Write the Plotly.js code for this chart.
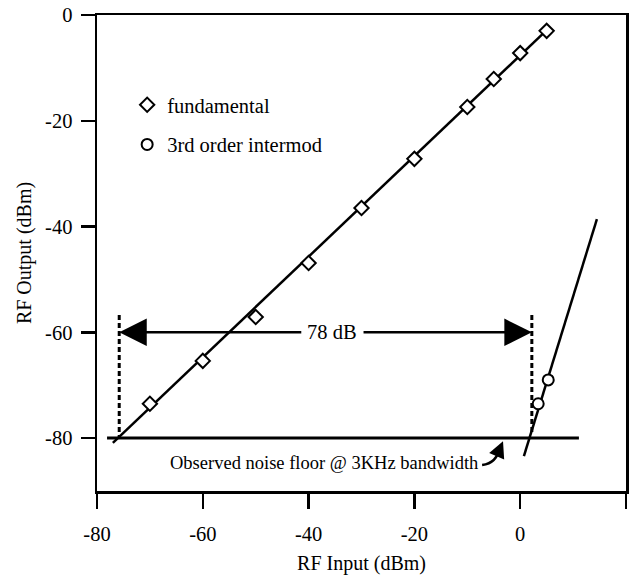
<!DOCTYPE html>
<html>
<head>
<meta charset="utf-8">
<script src="https://cdn.plot.ly/plotly-3.0.1.min.js"></script>
<style>html,body{margin:0;padding:0;background:#fff;}</style>
</head>
<body>
<div id="chart" style="width:635px;height:577px;"></div>
<script>
// measured data
const fundX = [-70, -60, -50, -40, -30, -20, -10, -5, 0, 5];
const fundY = [-73.5, -65.4, -57.1, -46.9, -36.5, -27.2, -17.4, -12.1, -7.2, -3.0];
const imdX = [3.4, 5.3];
const imdY = [-73.5, -69.0];
// fitted lines (endpoints)
const fundFitX = [-77, 5.6];
const fundFitY = [-80.9, -2.3];
const imdFitX = [0.7, 14.5];
const imdFitY = [-83.4, -38.6];
const noiseX = [-78.1, 11.1];
const noiseY = [-80, -80];
// dynamic range markers
const drLeftX = [-75.8, -75.8];
const drRightX = [2.2, 2.2];
const drLeftY = [-56.7, -80];
const drRightY = [-56.7, -79];
const arrowY = -60;
const xTicks = [-80, -60, -40, -20, 0, 20];
const xTickText = ['-80', '-60', '-40', '-20', '0', '20'];
const yTicks = [0, -20, -40, -60, -80];
const yTickText = ['0', '-20', '-40', '-60', '-80'];

const FONT = '"Liberation Serif", "Times New Roman", serif';
const black = '#000';

const traces = [
  {x: fundFitX, y: fundFitY, mode: 'lines', line: {color: black, width: 2.5}, showlegend: false, hoverinfo: 'skip'},
  {x: imdFitX, y: imdFitY, mode: 'lines', line: {color: black, width: 2.5}, showlegend: false, hoverinfo: 'skip'},
  {x: noiseX, y: noiseY, mode: 'lines', line: {color: black, width: 3}, showlegend: false, hoverinfo: 'skip'},
  {x: drLeftX, y: drLeftY, mode: 'lines', line: {color: black, width: 3, dash: '5px,3px'}, showlegend: false, hoverinfo: 'skip'},
  {x: drRightX, y: drRightY, mode: 'lines', line: {color: black, width: 3, dash: '5px,3px'}, showlegend: false, hoverinfo: 'skip'},
  {x: fundX, y: fundY, mode: 'markers', name: 'fundamental', legendgroup: 'a',
   marker: {symbol: 'diamond', size: 11, color: '#fff', line: {color: black, width: 2}}},
  {x: imdX, y: imdY, mode: 'markers', name: '3rd order intermod', legendgroup: 'b',
   marker: {symbol: 'circle', size: 11, color: '#fff', line: {color: black, width: 2}}}
];

const layout = {
  width: 635, height: 577,
  margin: {l: 97, r: 9, t: 15, b: 86},
  paper_bgcolor: '#fff', plot_bgcolor: '#fff',
  font: {family: FONT, size: 20, color: black},
  showlegend: true,
  legend: {x: 0.057, y: 0.853, xanchor: 'left', yanchor: 'top', bgcolor: 'rgba(0,0,0,0)',
           traceorder: 'grouped', tracegroupgap: 10, font: {family: FONT, size: 20.5}},
  xaxis: {range: [-80, 20], tickvals: xTicks, ticktext: xTickText, showgrid: false, zeroline: false,
          showline: true, mirror: true, linewidth: 2.5, linecolor: black,
          ticks: 'outside', ticklen: 15, tickwidth: 2.5, tickcolor: black,
          ticklabelstandoff: 8,
          tickfont: {family: FONT, size: 20.5},
          title: {text: 'RF Input (dBm)', font: {family: FONT, size: 20}, standoff: 12}},
  yaxis: {range: [-90, 0], tickvals: yTicks, ticktext: yTickText, showgrid: false, zeroline: false,
          showline: true, mirror: true, linewidth: 2.5, linecolor: black,
          ticks: 'outside', ticklen: 14, tickwidth: 2.5, tickcolor: black,
          ticklabelstandoff: 4,
          tickfont: {family: FONT, size: 20.5},
          title: {text: 'RF Output (dBm)', font: {family: FONT, size: 20}, standoff: 8}},
  shapes: [
    {type: 'path', xref: 'x', yref: 'y', path: 'M -7.2 -85.1 Q -4.4 -84.8 -3.8 -81.6',
     line: {color: black, width: 2.5}}
  ],
  annotations: [
    {x: -75.8, y: arrowY, ax: -41.1, ay: arrowY, axref: 'x', ayref: 'y', xref: 'x', yref: 'y',
     text: '', showarrow: true, arrowhead: 2, arrowsize: 2.2, arrowwidth: 2.5, arrowcolor: black},
    {x: 2.2, y: arrowY, ax: -29.9, ay: arrowY, axref: 'x', ayref: 'y', xref: 'x', yref: 'y',
     text: '', showarrow: true, arrowhead: 2, arrowsize: 2.2, arrowwidth: 2.5, arrowcolor: black},
    {x: -35.6, y: arrowY, xref: 'x', yref: 'y', text: '78 dB', showarrow: false,
     font: {family: FONT, size: 20.5}},
    {x: -66.6, y: -84.7, xref: 'x', yref: 'y', text: 'Observed noise floor @ 3KHz bandwidth',
     xanchor: 'left', showarrow: false, font: {family: FONT, size: 18.5}},
    {x: -3.25, y: -80.6, ax: -3.8, ay: -81.9, axref: 'x', ayref: 'y', xref: 'x', yref: 'y',
     text: '', showarrow: true, arrowhead: 2, arrowsize: 1.3, arrowwidth: 2.5, arrowcolor: black}
  ]
};

Plotly.newPlot('chart', traces, layout, {displayModeBar: false, staticPlot: true});
</script>
</body>
</html>
